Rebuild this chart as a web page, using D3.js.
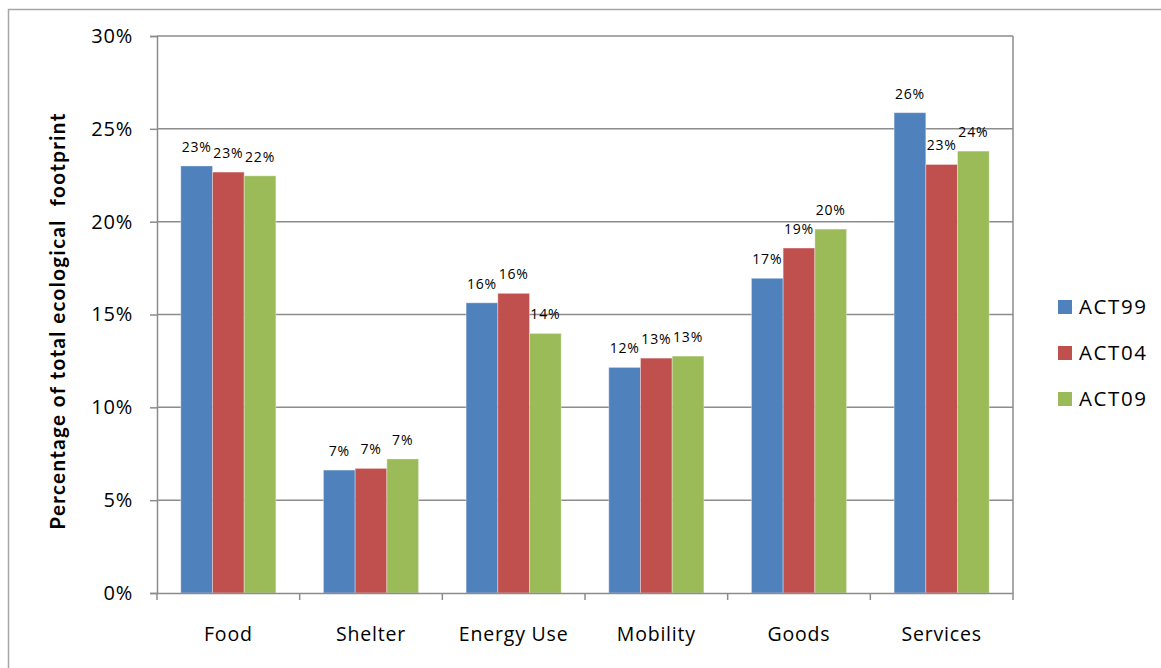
<!DOCTYPE html>
<html>
<head>
<meta charset="utf-8">
<script src="https://cdn.jsdelivr.net/npm/d3@7"></script>
<style>
    body { margin: 0; background: #fff; }
    svg { display: block; font-family: "Open Sans", sans-serif; }
</style>
</head>
<body>
<svg id="chart" width="1161" height="668"></svg>
<script>
"use strict";

// Data
var categories = ["Food", "Shelter", "Energy Use", "Mobility", "Goods", "Services"];
var seriesNames = ["ACT99", "ACT04", "ACT09"];
var act99 = [23.0, 6.62, 15.63, 12.15, 16.95, 25.87];
var act04 = [22.67, 6.71, 16.14, 12.65, 18.58, 23.08];
var act09 = [22.47, 7.22, 13.98, 12.76, 19.6, 23.8];
var yTicks = [0, 5, 10, 15, 20, 25, 30];
var colors = ["#4f81bd", "#c0504d", "#9bbb59"];

var series = [act99, act04, act09];

var svg = d3.select("#chart");

var plotLeft = 157, plotRight = 1013, plotTop = 36, plotBottom = 593;
var gridColor = "#8c8c8c";
var textColor = "#000";

// outer chart border
svg.append("rect")
    .attr("x", 8.5)
    .attr("y", 9.5)
    .attr("width", 1200)
    .attr("height", 700)
    .style("fill", "none")
    .style("stroke", "#a6a6a6")
    .style("stroke-width", 1.5)
;

var x0 = d3.scaleBand()
    .domain(categories)
    .range([plotLeft, plotRight])
    .paddingInner(0)
    .paddingOuter(0)
;

// 3 bars take 2/3 of each category
var x1 = d3.scaleBand()
    .domain(seriesNames)
    .range([0, x0.bandwidth()])
    .paddingOuter(0.75)
;

var y = d3.scaleLinear()
    .domain([0, 30])
    .range([plotBottom, plotTop])
;

// gridlines
svg.append("g")
    .selectAll("line")
    .data(yTicks.filter(function(d){return d > 0;}))
    .enter()
    .append("line")
    .attr("x1", plotLeft)
    .attr("x2", plotRight)
    .attr("y1", function(d){return y(d);})
    .attr("y2", function(d){return y(d);})
    .style("stroke", gridColor)
    .style("stroke-width", 1.5)
;

// right border of plot area
svg.append("line")
    .attr("x1", plotRight)
    .attr("x2", plotRight)
    .attr("y1", plotTop)
    .attr("y2", plotBottom)
    .style("stroke", gridColor)
    .style("stroke-width", 1.5)
;

// bars
var groups = svg.append("g")
    .selectAll("g")
    .data(categories)
    .enter()
    .append("g")
    .attr("transform", function(d){return "translate(" + x0(d) + ",0)";})
;

groups.selectAll("rect")
    .data(function(d, i){
        return seriesNames.map(function(s, j){return {name: s, value: series[j][i], idx: j};});
    })
    .enter()
    .append("rect")
    .attr("x", function(d){return x1(d.name);})
    .attr("y", function(d){return y(d.value);})
    .attr("width", x1.bandwidth())
    .attr("height", function(d){return plotBottom - y(d.value);})
    .style("fill", function(d){return colors[d.idx];})
    .style("stroke", "rgba(255,255,255,0.35)")
    .style("stroke-width", 1)
;

// data labels
groups.selectAll("text")
    .data(function(d, i){
        return seriesNames.map(function(s, j){return {name: s, value: series[j][i]};});
    })
    .enter()
    .append("text")
    .attr("x", function(d){return x1(d.name) + x1.bandwidth() / 2;})
    .attr("y", function(d){return y(d.value) - 14;})
    .attr("text-anchor", "middle")
    .style("font-size", "14px")
    .style("letter-spacing", "0.8px")
    .style("fill", textColor)
    .text(function(d){return Math.round(d.value) + "%";})
;

// y axis
var yAxis = d3.axisLeft(y)
    .tickValues(yTicks)
    .tickSize(7)
    .tickPadding(17)
    .tickFormat(function(d){return d + "%";})
;

var gy = svg.append("g")
    .attr("transform", "translate(" + plotLeft + ",0)")
    .call(yAxis)
;
gy.select(".domain").style("stroke", gridColor).style("stroke-width", 1.5);
gy.selectAll(".tick line").style("stroke", gridColor).style("stroke-width", 1.5);
gy.selectAll(".tick text")
    .style("font-family", "Open Sans")
    .style("font-size", "20px")
    .style("letter-spacing", "0.8px")
    .style("fill", textColor)
;

// x axis
var xAxis = d3.axisBottom(x0)
    .tickSize(0)
    .tickPadding(34)
;

var gx = svg.append("g")
    .attr("transform", "translate(0," + plotBottom + ")")
    .call(xAxis)
;
gx.select(".domain").style("stroke", gridColor).style("stroke-width", 1.5);
gx.selectAll(".tick text")
    .style("font-family", "Open Sans")
    .style("font-size", "19.5px")
    .style("letter-spacing", "0.8px")
    .style("fill", textColor)
;

// category boundary ticks
gx.selectAll(".boundary")
    .data(categories.concat([null]))
    .enter()
    .append("line")
    .attr("class", "boundary")
    .attr("x1", function(d, i){return plotLeft + i * x0.bandwidth();})
    .attr("x2", function(d, i){return plotLeft + i * x0.bandwidth();})
    .attr("y1", 0)
    .attr("y2", 7)
    .style("stroke", gridColor)
    .style("stroke-width", 1.5)
;

// y axis title
svg.append("text")
    .attr("transform", "translate(65,321) rotate(-90)")
    .attr("text-anchor", "middle")
    .attr("xml:space", "preserve")
    .style("font-family", "Lato")
    .style("font-weight", "bold")
    .style("font-size", "20.5px")
    .style("letter-spacing", "1.4px")
    .style("fill", textColor)
    .text("Percentage of total ecological  footprint")
;

// legend
var legend = svg.append("g")
    .selectAll("g")
    .data(seriesNames)
    .enter()
    .append("g")
    .attr("transform", function(d, i){return "translate(1058," + (307 + i * 46) + ")";})
;

legend.append("rect")
    .attr("x", 0)
    .attr("y", -7)
    .attr("width", 14)
    .attr("height", 14)
    .style("fill", function(d, i){return colors[i];})
;

legend.append("text")
    .attr("x", 21)
    .attr("y", 0)
    .attr("dy", "0.35em")
    .style("font-size", "20.5px")
    .style("letter-spacing", "1.6px")
    .style("fill", textColor)
    .text(function(d){return d;})
;
</script>
</body>
</html>
